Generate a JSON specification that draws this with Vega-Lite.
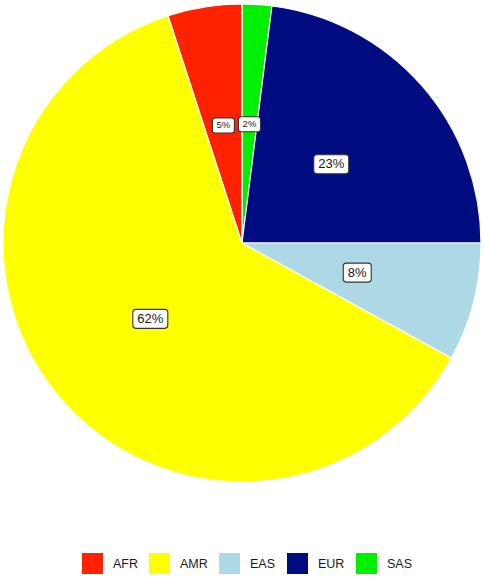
{
  "$schema": "https://vega.github.io/schema/vega-lite/v6.json",
  "width": 484,
  "height": 486,
  "padding": 0,
  "autosize": {"type": "pad"},
  "config": {
    "view": {"stroke": null},
    "font": "Liberation Sans"
  },
  "data": {
    "values": [
      {"region": "SAS", "value": 2, "ord": 1},
      {"region": "EUR", "value": 23, "ord": 2},
      {"region": "EAS", "value": 8, "ord": 3},
      {"region": "AMR", "value": 62, "ord": 4},
      {"region": "AFR", "value": 5, "ord": 5}
    ]
  },
  "transform": [
    {"window": [{"op": "sum", "field": "value", "as": "cum"}], "sort": [{"field": "ord"}], "frame": [null, 0]},
    {"calculate": "(datum.cum - datum.value / 2) / 100 * 2 * PI", "as": "mid"},
    {"calculate": "119 * sin(datum.mid)", "as": "px"},
    {"calculate": "119 * cos(datum.mid)", "as": "py"},
    {"calculate": "datum.value + '%'", "as": "label"}
  ],
  "layer": [
    {
      "mark": {"type": "arc", "outerRadius": 239, "stroke": "white", "strokeWidth": 1.2},
      "encoding": {
        "theta": {"field": "value", "type": "quantitative", "stack": true},
        "order": {"field": "ord", "type": "quantitative"},
        "color": {
          "field": "region",
          "type": "nominal",
          "scale": {
            "domain": ["AFR", "AMR", "EAS", "EUR", "SAS"],
            "range": ["#FF2200", "#FFFF00", "#ADD8E6", "#000C80", "#00F000"]
          },
          "legend": {
            "title": null,
            "orient": "none",
            "legendX": 82,
            "legendY": 553,
            "direction": "horizontal",
            "symbolType": "square",
            "symbolSize": 441,
            "symbolStrokeWidth": 0,
            "labelFontSize": 12.5,
            "labelOffset": 10,
            "columnPadding": 11,
            "labelColor": "#1a1a1a"
          }
        }
      }
    },
    {
      "mark": {"type": "point", "filled": true, "fill": "white", "stroke": "#333333", "strokeWidth": 1.1, "opacity": 1},
      "encoding": {
        "x": {"field": "px", "type": "quantitative", "scale": {"domain": [-242, 242], "nice": false, "zero": false}, "axis": null},
        "y": {"field": "py", "type": "quantitative", "scale": {"domain": [-243, 243], "nice": false, "zero": false}, "axis": null},
        "shape": {
          "condition": [
            {"test": "datum.value < 6", "value": "M -0.773 -0.682 L 0.773 -0.682 Q 1 -0.682 1 -0.455 L 1 0.455 Q 1 0.682 0.773 0.682 L -0.773 0.682 Q -1 0.682 -1 0.455 L -1 -0.455 Q -1 -0.682 -0.773 -0.682 Z"},
            {"test": "datum.value < 10", "value": "M -0.786 -0.679 L 0.786 -0.679 Q 1 -0.679 1 -0.464 L 1 0.464 Q 1 0.679 0.786 0.679 L -0.786 0.679 Q -1 0.679 -1 0.464 L -1 -0.464 Q -1 -0.679 -0.786 -0.679 Z"}
          ],
          "value": "M -0.829 -0.543 L 0.829 -0.543 Q 1 -0.543 1 -0.371 L 1 0.371 Q 1 0.543 0.829 0.543 L -0.829 0.543 Q -1 0.543 -1 0.371 L -1 -0.371 Q -1 -0.543 -0.829 -0.543 Z"
        },
        "size": {
          "condition": [
            {"test": "datum.value < 6", "value": 484},
            {"test": "datum.value < 10", "value": 784}
          ],
          "value": 1225
        }
      }
    },
    {
      "mark": {"type": "text", "color": "#1a1a1a", "baseline": "middle", "align": "center"},
      "encoding": {
        "x": {"field": "px", "type": "quantitative"},
        "y": {"field": "py", "type": "quantitative"},
        "text": {"field": "label", "type": "nominal"},
        "size": {
          "condition": {"test": "datum.value < 6", "value": 9.5},
          "value": 13
        }
      }
    }
  ]
}
